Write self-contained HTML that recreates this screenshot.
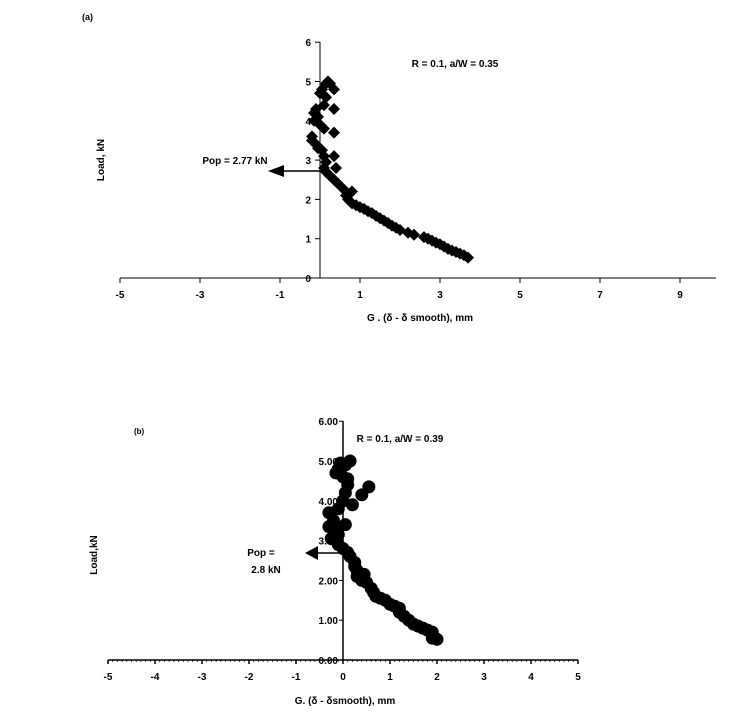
<!DOCTYPE html><html><head><style>body{margin:0;background:#fff}svg{display:block;font-family:"Liberation Sans",Arial,sans-serif;font-weight:bold}</style></head><body>
<svg id="s" width="744" height="723" xmlns="http://www.w3.org/2000/svg">
<text x="82" y="20" font-size="9">(a)</text>
<line x1="120" y1="278" x2="716" y2="278" stroke="#000"/>
<line x1="320" y1="42" x2="320" y2="278" stroke="#000"/>
<g font-size="10" text-anchor="middle" id="ax"></g>
<text x="420" y="321" font-size="10" text-anchor="middle">G . (δ - δ smooth), mm</text>
<text transform="translate(104,160) rotate(-90)" font-size="10" text-anchor="middle">Load, kN</text>
<text x="455" y="67" font-size="10" text-anchor="middle">R = 0.1, a/W = 0.35</text>
<text x="235" y="164" font-size="10" text-anchor="middle">Pop = 2.77 kN</text>
<line x1="280" y1="171" x2="320" y2="171" stroke="#000" stroke-width="1.5"/>
<polygon points="268,171 284,165 284,177" fill="#000"/>
<g id="pa"></g>

<text x="134" y="434" font-size="8">(b)</text>
<line x1="108" y1="660" x2="578" y2="660" stroke="#000" stroke-width="1.5"/>
<line x1="343" y1="421" x2="343" y2="660" stroke="#000" stroke-width="1.5"/>
<g id="bx" font-size="10" text-anchor="middle"></g>
<text x="345" y="704" font-size="10" text-anchor="middle">G. (δ - δsmooth), mm</text>
<text transform="translate(97,555) rotate(-90)" font-size="10" text-anchor="middle">Load,kN</text>
<text x="400" y="442" font-size="10" text-anchor="middle">R = 0.1, a/W = 0.39</text>
<text x="261" y="556" font-size="10" text-anchor="middle">Pop =</text>
<text x="266" y="573" font-size="10" text-anchor="middle">2.8 kN</text>
<line x1="315" y1="553" x2="343" y2="553" stroke="#000" stroke-width="1.5"/>
<polygon points="305,553 318,546 318,560" fill="#000"/>
<g id="pb"></g>
</svg>
<script>
var NS="http://www.w3.org/2000/svg",s=document.getElementById('s');
function el(p,t,a,txt){var e=document.createElementNS(NS,t);for(var k in a)e.setAttribute(k,a[k]);if(txt!=null)e.textContent=txt;p.appendChild(e);return e;}
var ax=document.getElementById('ax');
for(var v=-5;v<=9;v+=2){var x=320+v*40;el(ax,'line',{x1:x,y1:278,x2:x,y2:283,stroke:'#000'});el(ax,'text',{x:x,y:298},v);}
for(var v=0;v<=6;v++){var y=278-v*39.3;el(ax,'line',{x1:315,y1:y,x2:320,y2:y,stroke:'#000'});el(ax,'text',{x:311,y:y+4,'text-anchor':'end'},v);}
var A=[[3.7,0.52],[3.6,0.58],[3.5,0.62],[3.4,0.66],[3.3,0.7],[3.2,0.74],[3.1,0.8],[3.0,0.86],[2.9,0.9],[2.8,0.95],[2.7,1.0],[2.6,1.04],[2.35,1.1],[2.2,1.15],[2.0,1.22],[1.9,1.28],[1.8,1.33],[1.7,1.4],[1.6,1.46],[1.5,1.52],[1.4,1.58],[1.3,1.65],[1.2,1.7],[1.1,1.76],[1.0,1.8],[0.9,1.85],[0.8,1.9],[0.7,2.0],[0.65,2.1],[0.8,2.2],[0.6,2.25],[0.45,2.4],[0.35,2.5],[0.25,2.6],[0.15,2.7],[0.1,2.8],[0.4,2.8],[0.15,2.95],[0.35,3.1],[0.1,3.1],[0.05,3.25],[-0.05,3.3],[-0.1,3.4],[-0.2,3.5],[0.35,3.7],[0.1,3.8],[0.0,3.9],[-0.1,4.0],[-0.15,4.2],[-0.1,4.3],[-0.05,4.1],[0.35,4.3],[0.1,4.4],[0.15,4.6],[0,4.7],[0.05,4.8],[0.35,4.8],[0.15,4.95],[0.2,5.0],[0.25,4.95],[-0.2,3.6],[-0.15,4.0]];
var pa=document.getElementById('pa');
A.forEach(function(p){var x=320+p[0]*40,y=278-p[1]*39.3;el(pa,'polygon',{points:(x)+','+(y-6)+' '+(x+6)+','+y+' '+x+','+(y+6)+' '+(x-6)+','+y,fill:'#000'});});
var bx=document.getElementById('bx');
for(var i=-50;i<=50;i++){var x=343+i*4.7;el(bx,'line',{x1:x,y1:660,x2:x,y2:i%10==0?664:662,stroke:'#000','stroke-width':i%10==0?1.5:0.7});if(i%10==0)el(bx,'text',{x:x,y:680},i/10);}
for(var v=0;v<=6;v++){var y=660-v*39.8;el(bx,'line',{x1:339,y1:y,x2:343,y2:y,stroke:'#000'});el(bx,'text',{x:338,y:y+4,'text-anchor':'end'},v.toFixed(2));}
var B=[[2.0,0.52],[1.9,0.55],[1.9,0.7],[1.8,0.75],[1.7,0.8],[1.6,0.85],[1.5,0.9],[1.4,1.0],[1.3,1.1],[1.2,1.2],[1.2,1.3],[1.1,1.35],[1.0,1.4],[0.9,1.5],[0.8,1.55],[0.7,1.6],[0.65,1.7],[0.6,1.8],[0.5,1.95],[0.4,2.0],[0.3,2.1],[0.45,2.15],[0.3,2.25],[0.25,2.35],[0.25,2.45],[0.15,2.6],[0.1,2.7],[0.0,2.8],[-0.1,2.9],[-0.25,3.05],[-0.1,3.15],[-0.15,3.3],[-0.3,3.35],[0.05,3.4],[-0.2,3.5],[-0.3,3.7],[-0.1,3.8],[0.2,3.9],[0.0,4.0],[0.05,4.2],[0.4,4.15],[0.55,4.35],[0.1,4.4],[0.0,4.6],[-0.15,4.7],[-0.1,4.8],[0.05,4.9],[0.15,5.0],[-0.05,4.95],[0.1,4.55]];
var pb=document.getElementById('pb');
B.forEach(function(p){el(pb,'circle',{cx:343+p[0]*47,cy:660-p[1]*39.8,r:6.5,fill:'#000'});});
</script>
</body></html>
